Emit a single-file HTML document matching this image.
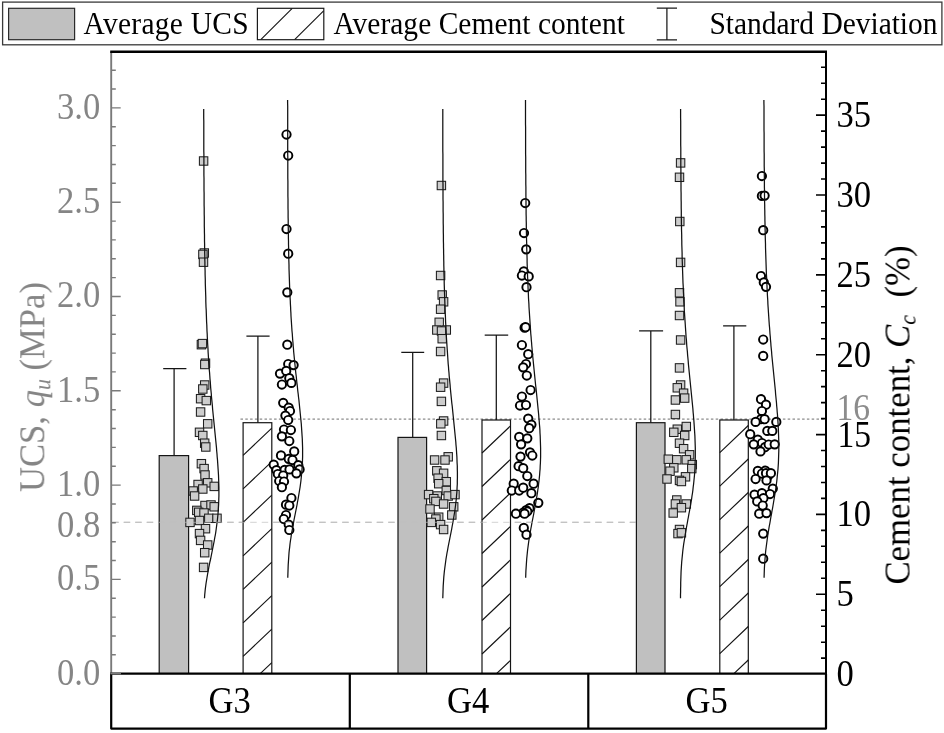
<!DOCTYPE html><html><head><meta charset="utf-8"><title>chart</title><style>
html,body{margin:0;padding:0;background:#fff;}body{width:944px;height:733px;overflow:hidden;}
svg{display:block;}text{font-family:"Liberation Serif",serif;filter:blur(0.3px);}
</style></head><body>
<svg width="944" height="733" viewBox="0 0 944 733">
<rect width="944" height="733" fill="#fff"/>
<rect x="2.6" y="2.1" width="939.3" height="42.7" fill="#fff" stroke="#3a3a3a" stroke-width="1.3"/>
<rect x="8.6" y="8.3" width="66" height="31.4" fill="#c0c0c0" stroke="#2a2a2a" stroke-width="1.2"/>
<text transform="translate(83.6,33.7) scale(1,1.085)" font-size="29.5" text-anchor="start" fill="#000" textLength="165">Average UCS</text>
<rect x="257.4" y="8.3" width="66.4" height="31.4" fill="#fff" stroke="#1a1a1a" stroke-width="1.2"/>
<path d="M260.8,39.7 L292.2,8.3 M294.6,39.7 L323.6,10.8" stroke="#1a1a1a" stroke-width="1.15" fill="none"/>
<text transform="translate(333.4,33.7) scale(1,1.085)" font-size="29.5" text-anchor="start" fill="#000" textLength="291.5">Average Cement content</text>
<path d="M666.9,8.2 V39.8 M656.8,8.2 H677 M656.8,39.8 H677" stroke="#1a1a1a" stroke-width="1.25" fill="none"/>
<text transform="translate(709.5,33.7) scale(1,1.085)" font-size="29.5" text-anchor="start" fill="#000" textLength="228">Standard Deviation</text>
<line x1="112.2" y1="522.3" x2="636" y2="522.3" stroke="#b8b8b8" stroke-width="1.05" stroke-dasharray="6.5,5"/>
<line x1="240.5" y1="419.1" x2="826.0" y2="419.1" stroke="#4a4a4a" stroke-width="0.8" stroke-dasharray="2.5,2.3"/>
<rect x="159.2" y="455.6" width="29.4" height="218.1" fill="#c0c0c0" stroke="#151515" stroke-width="1.2"/>
<path d="M174.1,455.6 V368.7 M163.2,368.7 H186.4" stroke="#151515" stroke-width="1.25" fill="none"/>
<rect x="243.1" y="422.7" width="28.7" height="251.0" fill="#fff" stroke="#151515" stroke-width="1.2"/>
<path d="M243.1,455.4 L271.8,428.1 M243.1,488.9 L271.8,461.6 M243.1,522.4 L271.8,495.1 M243.1,555.9 L271.8,528.6 M243.1,589.4 L271.8,562.1 M243.1,622.9 L271.8,595.6 M243.1,656.4 L271.8,629.1 M260.2,673.7 L271.8,662.6 " stroke="#151515" stroke-width="1.15" fill="none"/>
<path d="M257.9,422.7 V336.0 M246.4,336.0 H269.6" stroke="#151515" stroke-width="1.25" fill="none"/>
<rect x="398.0" y="437.4" width="28.6" height="236.3" fill="#c0c0c0" stroke="#151515" stroke-width="1.2"/>
<path d="M412.7,437.4 V352.3 M401.3,352.3 H424.2" stroke="#151515" stroke-width="1.25" fill="none"/>
<rect x="482.0" y="420.0" width="28.5" height="253.7" fill="#fff" stroke="#151515" stroke-width="1.2"/>
<path d="M482.0,453.0 L510.5,425.9 M482.0,486.5 L510.5,459.4 M482.0,520.0 L510.5,492.9 M482.0,553.5 L510.5,526.4 M482.0,587.0 L510.5,559.9 M482.0,620.5 L510.5,593.4 M482.0,654.0 L510.5,626.9 M496.5,673.7 L510.5,660.4 " stroke="#151515" stroke-width="1.15" fill="none"/>
<path d="M496.3,420.0 V335.1 M484.7,335.1 H508.2" stroke="#151515" stroke-width="1.25" fill="none"/>
<rect x="636.4" y="422.7" width="28.6" height="251.0" fill="#c0c0c0" stroke="#151515" stroke-width="1.2"/>
<path d="M650.8,422.7 V330.8 M639.1,330.8 H663.1" stroke="#151515" stroke-width="1.25" fill="none"/>
<rect x="719.8" y="420.0" width="28.5" height="253.7" fill="#fff" stroke="#151515" stroke-width="1.2"/>
<path d="M719.8,452.6 L748.3,425.5 M719.8,486.1 L748.3,459.0 M719.8,519.6 L748.3,492.5 M719.8,553.1 L748.3,526.0 M719.8,586.6 L748.3,559.5 M719.8,620.1 L748.3,593.0 M719.8,653.6 L748.3,626.5 M733.9,673.7 L748.3,660.0 " stroke="#151515" stroke-width="1.15" fill="none"/>
<path d="M733.9,420.0 V325.8 M723.1,325.8 H746.3" stroke="#151515" stroke-width="1.25" fill="none"/>
<rect x="199.4" y="156.8" width="8.4" height="8.4" fill="#cdcdcd" stroke="#1e1e1e" stroke-width="1.05"/>
<rect x="200.1" y="248.8" width="8.4" height="8.4" fill="#cdcdcd" stroke="#1e1e1e" stroke-width="1.05"/>
<rect x="198.7" y="250.2" width="8.4" height="8.4" fill="#cdcdcd" stroke="#1e1e1e" stroke-width="1.05"/>
<rect x="199.3" y="258.0" width="8.4" height="8.4" fill="#cdcdcd" stroke="#1e1e1e" stroke-width="1.05"/>
<rect x="197.2" y="340.5" width="8.4" height="8.4" fill="#cdcdcd" stroke="#1e1e1e" stroke-width="1.05"/>
<rect x="198.2" y="339.4" width="8.4" height="8.4" fill="#cdcdcd" stroke="#1e1e1e" stroke-width="1.05"/>
<rect x="201.3" y="359.0" width="8.4" height="8.4" fill="#cdcdcd" stroke="#1e1e1e" stroke-width="1.05"/>
<rect x="200.6" y="360.3" width="8.4" height="8.4" fill="#cdcdcd" stroke="#1e1e1e" stroke-width="1.05"/>
<rect x="200.5" y="380.8" width="8.4" height="8.4" fill="#cdcdcd" stroke="#1e1e1e" stroke-width="1.05"/>
<rect x="198.6" y="384.8" width="8.4" height="8.4" fill="#cdcdcd" stroke="#1e1e1e" stroke-width="1.05"/>
<rect x="196.4" y="394.5" width="8.4" height="8.4" fill="#cdcdcd" stroke="#1e1e1e" stroke-width="1.05"/>
<rect x="202.1" y="396.4" width="8.4" height="8.4" fill="#cdcdcd" stroke="#1e1e1e" stroke-width="1.05"/>
<rect x="196.4" y="407.8" width="8.4" height="8.4" fill="#cdcdcd" stroke="#1e1e1e" stroke-width="1.05"/>
<rect x="203.5" y="419.6" width="8.4" height="8.4" fill="#cdcdcd" stroke="#1e1e1e" stroke-width="1.05"/>
<rect x="195.3" y="428.1" width="8.4" height="8.4" fill="#cdcdcd" stroke="#1e1e1e" stroke-width="1.05"/>
<rect x="198.6" y="431.3" width="8.4" height="8.4" fill="#cdcdcd" stroke="#1e1e1e" stroke-width="1.05"/>
<rect x="200.5" y="439.0" width="8.4" height="8.4" fill="#cdcdcd" stroke="#1e1e1e" stroke-width="1.05"/>
<rect x="201.6" y="442.8" width="8.4" height="8.4" fill="#cdcdcd" stroke="#1e1e1e" stroke-width="1.05"/>
<rect x="197.2" y="459.5" width="8.4" height="8.4" fill="#cdcdcd" stroke="#1e1e1e" stroke-width="1.05"/>
<rect x="199.9" y="464.4" width="8.4" height="8.4" fill="#cdcdcd" stroke="#1e1e1e" stroke-width="1.05"/>
<rect x="200.8" y="470.8" width="8.4" height="8.4" fill="#cdcdcd" stroke="#1e1e1e" stroke-width="1.05"/>
<rect x="193.9" y="480.3" width="8.4" height="8.4" fill="#cdcdcd" stroke="#1e1e1e" stroke-width="1.05"/>
<rect x="203.5" y="478.6" width="8.4" height="8.4" fill="#cdcdcd" stroke="#1e1e1e" stroke-width="1.05"/>
<rect x="210.0" y="482.2" width="8.4" height="8.4" fill="#cdcdcd" stroke="#1e1e1e" stroke-width="1.05"/>
<rect x="198.6" y="484.8" width="8.4" height="8.4" fill="#cdcdcd" stroke="#1e1e1e" stroke-width="1.05"/>
<rect x="189.0" y="486.8" width="8.4" height="8.4" fill="#cdcdcd" stroke="#1e1e1e" stroke-width="1.05"/>
<rect x="190.4" y="491.8" width="8.4" height="8.4" fill="#cdcdcd" stroke="#1e1e1e" stroke-width="1.05"/>
<rect x="200.8" y="501.3" width="8.4" height="8.4" fill="#cdcdcd" stroke="#1e1e1e" stroke-width="1.05"/>
<rect x="206.8" y="500.8" width="8.4" height="8.4" fill="#cdcdcd" stroke="#1e1e1e" stroke-width="1.05"/>
<rect x="210.0" y="502.6" width="8.4" height="8.4" fill="#cdcdcd" stroke="#1e1e1e" stroke-width="1.05"/>
<rect x="192.6" y="506.2" width="8.4" height="8.4" fill="#cdcdcd" stroke="#1e1e1e" stroke-width="1.05"/>
<rect x="194.5" y="508.1" width="8.4" height="8.4" fill="#cdcdcd" stroke="#1e1e1e" stroke-width="1.05"/>
<rect x="199.8" y="508.8" width="8.4" height="8.4" fill="#cdcdcd" stroke="#1e1e1e" stroke-width="1.05"/>
<rect x="204.6" y="514.1" width="8.4" height="8.4" fill="#cdcdcd" stroke="#1e1e1e" stroke-width="1.05"/>
<rect x="212.8" y="514.1" width="8.4" height="8.4" fill="#cdcdcd" stroke="#1e1e1e" stroke-width="1.05"/>
<rect x="185.8" y="518.2" width="8.4" height="8.4" fill="#cdcdcd" stroke="#1e1e1e" stroke-width="1.05"/>
<rect x="195.3" y="516.3" width="8.4" height="8.4" fill="#cdcdcd" stroke="#1e1e1e" stroke-width="1.05"/>
<rect x="201.3" y="524.5" width="8.4" height="8.4" fill="#cdcdcd" stroke="#1e1e1e" stroke-width="1.05"/>
<rect x="195.3" y="529.4" width="8.4" height="8.4" fill="#cdcdcd" stroke="#1e1e1e" stroke-width="1.05"/>
<rect x="196.4" y="536.2" width="8.4" height="8.4" fill="#cdcdcd" stroke="#1e1e1e" stroke-width="1.05"/>
<rect x="203.5" y="540.8" width="8.4" height="8.4" fill="#cdcdcd" stroke="#1e1e1e" stroke-width="1.05"/>
<rect x="200.5" y="548.5" width="8.4" height="8.4" fill="#cdcdcd" stroke="#1e1e1e" stroke-width="1.05"/>
<rect x="199.4" y="563.2" width="8.4" height="8.4" fill="#cdcdcd" stroke="#1e1e1e" stroke-width="1.05"/>
<circle cx="286.5" cy="134.5" r="4.15" fill="#fff" stroke="#000" stroke-width="1.95"/>
<circle cx="288.2" cy="155.5" r="4.15" fill="#fff" stroke="#000" stroke-width="1.95"/>
<circle cx="286.5" cy="229.0" r="4.15" fill="#fff" stroke="#000" stroke-width="1.95"/>
<circle cx="288.2" cy="253.7" r="4.15" fill="#fff" stroke="#000" stroke-width="1.95"/>
<circle cx="287.3" cy="292.3" r="4.15" fill="#fff" stroke="#000" stroke-width="1.95"/>
<circle cx="287.3" cy="344.7" r="4.15" fill="#fff" stroke="#000" stroke-width="1.95"/>
<circle cx="288.2" cy="364.0" r="4.15" fill="#fff" stroke="#000" stroke-width="1.95"/>
<circle cx="293.6" cy="365.1" r="4.15" fill="#fff" stroke="#000" stroke-width="1.95"/>
<circle cx="280.0" cy="373.6" r="4.15" fill="#fff" stroke="#000" stroke-width="1.95"/>
<circle cx="286.2" cy="370.9" r="4.15" fill="#fff" stroke="#000" stroke-width="1.95"/>
<circle cx="289.3" cy="378.2" r="4.15" fill="#fff" stroke="#000" stroke-width="1.95"/>
<circle cx="281.9" cy="384.5" r="4.15" fill="#fff" stroke="#000" stroke-width="1.95"/>
<circle cx="291.4" cy="382.9" r="4.15" fill="#fff" stroke="#000" stroke-width="1.95"/>
<circle cx="283.2" cy="402.8" r="4.15" fill="#fff" stroke="#000" stroke-width="1.95"/>
<circle cx="288.7" cy="407.7" r="4.15" fill="#fff" stroke="#000" stroke-width="1.95"/>
<circle cx="290.0" cy="411.0" r="4.15" fill="#fff" stroke="#000" stroke-width="1.95"/>
<circle cx="285.4" cy="415.6" r="4.15" fill="#fff" stroke="#000" stroke-width="1.95"/>
<circle cx="288.2" cy="420.0" r="4.15" fill="#fff" stroke="#000" stroke-width="1.95"/>
<circle cx="284.0" cy="429.5" r="4.15" fill="#fff" stroke="#000" stroke-width="1.95"/>
<circle cx="290.9" cy="430.0" r="4.15" fill="#fff" stroke="#000" stroke-width="1.95"/>
<circle cx="281.9" cy="436.3" r="4.15" fill="#fff" stroke="#000" stroke-width="1.95"/>
<circle cx="289.3" cy="441.0" r="4.15" fill="#fff" stroke="#000" stroke-width="1.95"/>
<circle cx="294.2" cy="451.4" r="4.15" fill="#fff" stroke="#000" stroke-width="1.95"/>
<circle cx="281.0" cy="455.4" r="4.15" fill="#fff" stroke="#000" stroke-width="1.95"/>
<circle cx="288.7" cy="458.8" r="4.15" fill="#fff" stroke="#000" stroke-width="1.95"/>
<circle cx="292.5" cy="460.0" r="4.15" fill="#fff" stroke="#000" stroke-width="1.95"/>
<circle cx="273.7" cy="464.6" r="4.15" fill="#fff" stroke="#000" stroke-width="1.95"/>
<circle cx="298.3" cy="465.2" r="4.15" fill="#fff" stroke="#000" stroke-width="1.95"/>
<circle cx="276.4" cy="470.1" r="4.15" fill="#fff" stroke="#000" stroke-width="1.95"/>
<circle cx="284.6" cy="469.8" r="4.15" fill="#fff" stroke="#000" stroke-width="1.95"/>
<circle cx="289.5" cy="469.4" r="4.15" fill="#fff" stroke="#000" stroke-width="1.95"/>
<circle cx="299.6" cy="469.4" r="4.15" fill="#fff" stroke="#000" stroke-width="1.95"/>
<circle cx="296.4" cy="473.3" r="4.15" fill="#fff" stroke="#000" stroke-width="1.95"/>
<circle cx="277.8" cy="474.0" r="4.15" fill="#fff" stroke="#000" stroke-width="1.95"/>
<circle cx="283.2" cy="475.5" r="4.15" fill="#fff" stroke="#000" stroke-width="1.95"/>
<circle cx="279.2" cy="481.0" r="4.15" fill="#fff" stroke="#000" stroke-width="1.95"/>
<circle cx="284.0" cy="481.5" r="4.15" fill="#fff" stroke="#000" stroke-width="1.95"/>
<circle cx="281.9" cy="487.2" r="4.15" fill="#fff" stroke="#000" stroke-width="1.95"/>
<circle cx="291.4" cy="498.0" r="4.15" fill="#fff" stroke="#000" stroke-width="1.95"/>
<circle cx="286.0" cy="504.7" r="4.15" fill="#fff" stroke="#000" stroke-width="1.95"/>
<circle cx="289.3" cy="505.5" r="4.15" fill="#fff" stroke="#000" stroke-width="1.95"/>
<circle cx="286.0" cy="515.0" r="4.15" fill="#fff" stroke="#000" stroke-width="1.95"/>
<circle cx="283.8" cy="519.0" r="4.15" fill="#fff" stroke="#000" stroke-width="1.95"/>
<circle cx="288.7" cy="524.6" r="4.15" fill="#fff" stroke="#000" stroke-width="1.95"/>
<circle cx="289.3" cy="530.0" r="4.15" fill="#fff" stroke="#000" stroke-width="1.95"/>
<rect x="437.2" y="181.3" width="8.4" height="8.4" fill="#cdcdcd" stroke="#1e1e1e" stroke-width="1.05"/>
<rect x="436.4" y="271.3" width="8.4" height="8.4" fill="#cdcdcd" stroke="#1e1e1e" stroke-width="1.05"/>
<rect x="438.0" y="290.8" width="8.4" height="8.4" fill="#cdcdcd" stroke="#1e1e1e" stroke-width="1.05"/>
<rect x="439.4" y="297.6" width="8.4" height="8.4" fill="#cdcdcd" stroke="#1e1e1e" stroke-width="1.05"/>
<rect x="436.4" y="305.0" width="8.4" height="8.4" fill="#cdcdcd" stroke="#1e1e1e" stroke-width="1.05"/>
<rect x="435.0" y="318.1" width="8.4" height="8.4" fill="#cdcdcd" stroke="#1e1e1e" stroke-width="1.05"/>
<rect x="432.6" y="325.8" width="8.4" height="8.4" fill="#cdcdcd" stroke="#1e1e1e" stroke-width="1.05"/>
<rect x="442.1" y="325.8" width="8.4" height="8.4" fill="#cdcdcd" stroke="#1e1e1e" stroke-width="1.05"/>
<rect x="437.3" y="326.8" width="8.4" height="8.4" fill="#cdcdcd" stroke="#1e1e1e" stroke-width="1.05"/>
<rect x="438.0" y="334.5" width="8.4" height="8.4" fill="#cdcdcd" stroke="#1e1e1e" stroke-width="1.05"/>
<rect x="436.4" y="347.3" width="8.4" height="8.4" fill="#cdcdcd" stroke="#1e1e1e" stroke-width="1.05"/>
<rect x="439.4" y="378.9" width="8.4" height="8.4" fill="#cdcdcd" stroke="#1e1e1e" stroke-width="1.05"/>
<rect x="436.4" y="383.0" width="8.4" height="8.4" fill="#cdcdcd" stroke="#1e1e1e" stroke-width="1.05"/>
<rect x="437.2" y="397.2" width="8.4" height="8.4" fill="#cdcdcd" stroke="#1e1e1e" stroke-width="1.05"/>
<rect x="439.4" y="416.8" width="8.4" height="8.4" fill="#cdcdcd" stroke="#1e1e1e" stroke-width="1.05"/>
<rect x="436.6" y="419.6" width="8.4" height="8.4" fill="#cdcdcd" stroke="#1e1e1e" stroke-width="1.05"/>
<rect x="437.2" y="431.3" width="8.4" height="8.4" fill="#cdcdcd" stroke="#1e1e1e" stroke-width="1.05"/>
<rect x="444.0" y="452.6" width="8.4" height="8.4" fill="#cdcdcd" stroke="#1e1e1e" stroke-width="1.05"/>
<rect x="430.4" y="455.8" width="8.4" height="8.4" fill="#cdcdcd" stroke="#1e1e1e" stroke-width="1.05"/>
<rect x="440.8" y="455.8" width="8.4" height="8.4" fill="#cdcdcd" stroke="#1e1e1e" stroke-width="1.05"/>
<rect x="432.6" y="466.6" width="8.4" height="8.4" fill="#cdcdcd" stroke="#1e1e1e" stroke-width="1.05"/>
<rect x="439.4" y="469.1" width="8.4" height="8.4" fill="#cdcdcd" stroke="#1e1e1e" stroke-width="1.05"/>
<rect x="433.9" y="474.0" width="8.4" height="8.4" fill="#cdcdcd" stroke="#1e1e1e" stroke-width="1.05"/>
<rect x="442.1" y="477.5" width="8.4" height="8.4" fill="#cdcdcd" stroke="#1e1e1e" stroke-width="1.05"/>
<rect x="434.5" y="479.5" width="8.4" height="8.4" fill="#cdcdcd" stroke="#1e1e1e" stroke-width="1.05"/>
<rect x="442.1" y="486.3" width="8.4" height="8.4" fill="#cdcdcd" stroke="#1e1e1e" stroke-width="1.05"/>
<rect x="424.4" y="490.4" width="8.4" height="8.4" fill="#cdcdcd" stroke="#1e1e1e" stroke-width="1.05"/>
<rect x="433.1" y="491.8" width="8.4" height="8.4" fill="#cdcdcd" stroke="#1e1e1e" stroke-width="1.05"/>
<rect x="444.0" y="491.8" width="8.4" height="8.4" fill="#cdcdcd" stroke="#1e1e1e" stroke-width="1.05"/>
<rect x="450.8" y="490.4" width="8.4" height="8.4" fill="#cdcdcd" stroke="#1e1e1e" stroke-width="1.05"/>
<rect x="429.6" y="494.5" width="8.4" height="8.4" fill="#cdcdcd" stroke="#1e1e1e" stroke-width="1.05"/>
<rect x="431.7" y="497.2" width="8.4" height="8.4" fill="#cdcdcd" stroke="#1e1e1e" stroke-width="1.05"/>
<rect x="439.4" y="499.8" width="8.4" height="8.4" fill="#cdcdcd" stroke="#1e1e1e" stroke-width="1.05"/>
<rect x="449.5" y="502.6" width="8.4" height="8.4" fill="#cdcdcd" stroke="#1e1e1e" stroke-width="1.05"/>
<rect x="425.8" y="504.8" width="8.4" height="8.4" fill="#cdcdcd" stroke="#1e1e1e" stroke-width="1.05"/>
<rect x="447.6" y="510.8" width="8.4" height="8.4" fill="#cdcdcd" stroke="#1e1e1e" stroke-width="1.05"/>
<rect x="434.5" y="513.0" width="8.4" height="8.4" fill="#cdcdcd" stroke="#1e1e1e" stroke-width="1.05"/>
<rect x="431.7" y="514.8" width="8.4" height="8.4" fill="#cdcdcd" stroke="#1e1e1e" stroke-width="1.05"/>
<rect x="427.1" y="518.2" width="8.4" height="8.4" fill="#cdcdcd" stroke="#1e1e1e" stroke-width="1.05"/>
<rect x="436.4" y="520.4" width="8.4" height="8.4" fill="#cdcdcd" stroke="#1e1e1e" stroke-width="1.05"/>
<rect x="439.4" y="525.3" width="8.4" height="8.4" fill="#cdcdcd" stroke="#1e1e1e" stroke-width="1.05"/>
<circle cx="525.2" cy="203.0" r="4.15" fill="#fff" stroke="#000" stroke-width="1.95"/>
<circle cx="524.0" cy="233.0" r="4.15" fill="#fff" stroke="#000" stroke-width="1.95"/>
<circle cx="526.2" cy="249.3" r="4.15" fill="#fff" stroke="#000" stroke-width="1.95"/>
<circle cx="523.8" cy="271.4" r="4.15" fill="#fff" stroke="#000" stroke-width="1.95"/>
<circle cx="521.9" cy="275.5" r="4.15" fill="#fff" stroke="#000" stroke-width="1.95"/>
<circle cx="528.7" cy="276.4" r="4.15" fill="#fff" stroke="#000" stroke-width="1.95"/>
<circle cx="526.5" cy="287.2" r="4.15" fill="#fff" stroke="#000" stroke-width="1.95"/>
<circle cx="524.6" cy="327.7" r="4.15" fill="#fff" stroke="#000" stroke-width="1.95"/>
<circle cx="525.6" cy="327.2" r="4.15" fill="#fff" stroke="#000" stroke-width="1.95"/>
<circle cx="521.9" cy="345.0" r="4.15" fill="#fff" stroke="#000" stroke-width="1.95"/>
<circle cx="528.2" cy="354.2" r="4.15" fill="#fff" stroke="#000" stroke-width="1.95"/>
<circle cx="526.0" cy="364.0" r="4.15" fill="#fff" stroke="#000" stroke-width="1.95"/>
<circle cx="523.2" cy="367.3" r="4.15" fill="#fff" stroke="#000" stroke-width="1.95"/>
<circle cx="526.8" cy="375.5" r="4.15" fill="#fff" stroke="#000" stroke-width="1.95"/>
<circle cx="530.6" cy="390.0" r="4.15" fill="#fff" stroke="#000" stroke-width="1.95"/>
<circle cx="521.9" cy="396.5" r="4.15" fill="#fff" stroke="#000" stroke-width="1.95"/>
<circle cx="520.0" cy="405.5" r="4.15" fill="#fff" stroke="#000" stroke-width="1.95"/>
<circle cx="526.0" cy="405.0" r="4.15" fill="#fff" stroke="#000" stroke-width="1.95"/>
<circle cx="528.2" cy="418.6" r="4.15" fill="#fff" stroke="#000" stroke-width="1.95"/>
<circle cx="531.4" cy="424.6" r="4.15" fill="#fff" stroke="#000" stroke-width="1.95"/>
<circle cx="529.2" cy="428.2" r="4.15" fill="#fff" stroke="#000" stroke-width="1.95"/>
<circle cx="519.2" cy="436.9" r="4.15" fill="#fff" stroke="#000" stroke-width="1.95"/>
<circle cx="527.3" cy="438.3" r="4.15" fill="#fff" stroke="#000" stroke-width="1.95"/>
<circle cx="521.1" cy="444.3" r="4.15" fill="#fff" stroke="#000" stroke-width="1.95"/>
<circle cx="530.0" cy="452.3" r="4.15" fill="#fff" stroke="#000" stroke-width="1.95"/>
<circle cx="532.3" cy="455.5" r="4.15" fill="#fff" stroke="#000" stroke-width="1.95"/>
<circle cx="520.5" cy="456.6" r="4.15" fill="#fff" stroke="#000" stroke-width="1.95"/>
<circle cx="518.6" cy="466.2" r="4.15" fill="#fff" stroke="#000" stroke-width="1.95"/>
<circle cx="523.2" cy="468.2" r="4.15" fill="#fff" stroke="#000" stroke-width="1.95"/>
<circle cx="527.3" cy="476.0" r="4.15" fill="#fff" stroke="#000" stroke-width="1.95"/>
<circle cx="513.7" cy="483.7" r="4.15" fill="#fff" stroke="#000" stroke-width="1.95"/>
<circle cx="533.6" cy="483.7" r="4.15" fill="#fff" stroke="#000" stroke-width="1.95"/>
<circle cx="511.8" cy="490.5" r="4.15" fill="#fff" stroke="#000" stroke-width="1.95"/>
<circle cx="519.2" cy="490.5" r="4.15" fill="#fff" stroke="#000" stroke-width="1.95"/>
<circle cx="523.2" cy="487.7" r="4.15" fill="#fff" stroke="#000" stroke-width="1.95"/>
<circle cx="531.4" cy="493.2" r="4.15" fill="#fff" stroke="#000" stroke-width="1.95"/>
<circle cx="538.3" cy="502.8" r="4.15" fill="#fff" stroke="#000" stroke-width="1.95"/>
<circle cx="529.5" cy="508.2" r="4.15" fill="#fff" stroke="#000" stroke-width="1.95"/>
<circle cx="526.2" cy="510.2" r="4.15" fill="#fff" stroke="#000" stroke-width="1.95"/>
<circle cx="527.3" cy="511.5" r="4.15" fill="#fff" stroke="#000" stroke-width="1.95"/>
<circle cx="523.2" cy="512.6" r="4.15" fill="#fff" stroke="#000" stroke-width="1.95"/>
<circle cx="515.9" cy="513.7" r="4.15" fill="#fff" stroke="#000" stroke-width="1.95"/>
<circle cx="524.6" cy="513.7" r="4.15" fill="#fff" stroke="#000" stroke-width="1.95"/>
<circle cx="523.8" cy="527.9" r="4.15" fill="#fff" stroke="#000" stroke-width="1.95"/>
<circle cx="526.5" cy="534.7" r="4.15" fill="#fff" stroke="#000" stroke-width="1.95"/>
<rect x="676.4" y="158.7" width="8.4" height="8.4" fill="#cdcdcd" stroke="#1e1e1e" stroke-width="1.05"/>
<rect x="675.3" y="173.1" width="8.4" height="8.4" fill="#cdcdcd" stroke="#1e1e1e" stroke-width="1.05"/>
<rect x="675.6" y="217.3" width="8.4" height="8.4" fill="#cdcdcd" stroke="#1e1e1e" stroke-width="1.05"/>
<rect x="676.4" y="258.2" width="8.4" height="8.4" fill="#cdcdcd" stroke="#1e1e1e" stroke-width="1.05"/>
<rect x="675.3" y="288.6" width="8.4" height="8.4" fill="#cdcdcd" stroke="#1e1e1e" stroke-width="1.05"/>
<rect x="675.8" y="297.6" width="8.4" height="8.4" fill="#cdcdcd" stroke="#1e1e1e" stroke-width="1.05"/>
<rect x="675.3" y="311.3" width="8.4" height="8.4" fill="#cdcdcd" stroke="#1e1e1e" stroke-width="1.05"/>
<rect x="676.4" y="335.8" width="8.4" height="8.4" fill="#cdcdcd" stroke="#1e1e1e" stroke-width="1.05"/>
<rect x="675.3" y="363.7" width="8.4" height="8.4" fill="#cdcdcd" stroke="#1e1e1e" stroke-width="1.05"/>
<rect x="676.4" y="380.8" width="8.4" height="8.4" fill="#cdcdcd" stroke="#1e1e1e" stroke-width="1.05"/>
<rect x="673.1" y="383.6" width="8.4" height="8.4" fill="#cdcdcd" stroke="#1e1e1e" stroke-width="1.05"/>
<rect x="679.4" y="389.0" width="8.4" height="8.4" fill="#cdcdcd" stroke="#1e1e1e" stroke-width="1.05"/>
<rect x="671.2" y="395.8" width="8.4" height="8.4" fill="#cdcdcd" stroke="#1e1e1e" stroke-width="1.05"/>
<rect x="680.5" y="393.9" width="8.4" height="8.4" fill="#cdcdcd" stroke="#1e1e1e" stroke-width="1.05"/>
<rect x="671.2" y="410.3" width="8.4" height="8.4" fill="#cdcdcd" stroke="#1e1e1e" stroke-width="1.05"/>
<rect x="682.1" y="422.3" width="8.4" height="8.4" fill="#cdcdcd" stroke="#1e1e1e" stroke-width="1.05"/>
<rect x="673.1" y="425.0" width="8.4" height="8.4" fill="#cdcdcd" stroke="#1e1e1e" stroke-width="1.05"/>
<rect x="669.6" y="428.1" width="8.4" height="8.4" fill="#cdcdcd" stroke="#1e1e1e" stroke-width="1.05"/>
<rect x="680.5" y="431.3" width="8.4" height="8.4" fill="#cdcdcd" stroke="#1e1e1e" stroke-width="1.05"/>
<rect x="675.3" y="439.0" width="8.4" height="8.4" fill="#cdcdcd" stroke="#1e1e1e" stroke-width="1.05"/>
<rect x="679.4" y="444.5" width="8.4" height="8.4" fill="#cdcdcd" stroke="#1e1e1e" stroke-width="1.05"/>
<rect x="685.4" y="450.6" width="8.4" height="8.4" fill="#cdcdcd" stroke="#1e1e1e" stroke-width="1.05"/>
<rect x="664.1" y="455.0" width="8.4" height="8.4" fill="#cdcdcd" stroke="#1e1e1e" stroke-width="1.05"/>
<rect x="672.6" y="455.6" width="8.4" height="8.4" fill="#cdcdcd" stroke="#1e1e1e" stroke-width="1.05"/>
<rect x="682.1" y="455.6" width="8.4" height="8.4" fill="#cdcdcd" stroke="#1e1e1e" stroke-width="1.05"/>
<rect x="688.1" y="460.4" width="8.4" height="8.4" fill="#cdcdcd" stroke="#1e1e1e" stroke-width="1.05"/>
<rect x="669.6" y="463.6" width="8.4" height="8.4" fill="#cdcdcd" stroke="#1e1e1e" stroke-width="1.05"/>
<rect x="665.8" y="467.0" width="8.4" height="8.4" fill="#cdcdcd" stroke="#1e1e1e" stroke-width="1.05"/>
<rect x="687.6" y="464.4" width="8.4" height="8.4" fill="#cdcdcd" stroke="#1e1e1e" stroke-width="1.05"/>
<rect x="681.3" y="472.6" width="8.4" height="8.4" fill="#cdcdcd" stroke="#1e1e1e" stroke-width="1.05"/>
<rect x="662.8" y="474.8" width="8.4" height="8.4" fill="#cdcdcd" stroke="#1e1e1e" stroke-width="1.05"/>
<rect x="675.3" y="476.2" width="8.4" height="8.4" fill="#cdcdcd" stroke="#1e1e1e" stroke-width="1.05"/>
<rect x="677.2" y="477.3" width="8.4" height="8.4" fill="#cdcdcd" stroke="#1e1e1e" stroke-width="1.05"/>
<rect x="672.6" y="495.8" width="8.4" height="8.4" fill="#cdcdcd" stroke="#1e1e1e" stroke-width="1.05"/>
<rect x="671.2" y="499.8" width="8.4" height="8.4" fill="#cdcdcd" stroke="#1e1e1e" stroke-width="1.05"/>
<rect x="682.1" y="499.8" width="8.4" height="8.4" fill="#cdcdcd" stroke="#1e1e1e" stroke-width="1.05"/>
<rect x="677.2" y="503.5" width="8.4" height="8.4" fill="#cdcdcd" stroke="#1e1e1e" stroke-width="1.05"/>
<rect x="669.0" y="508.8" width="8.4" height="8.4" fill="#cdcdcd" stroke="#1e1e1e" stroke-width="1.05"/>
<rect x="675.3" y="525.3" width="8.4" height="8.4" fill="#cdcdcd" stroke="#1e1e1e" stroke-width="1.05"/>
<rect x="673.8" y="529.4" width="8.4" height="8.4" fill="#cdcdcd" stroke="#1e1e1e" stroke-width="1.05"/>
<rect x="677.2" y="528.6" width="8.4" height="8.4" fill="#cdcdcd" stroke="#1e1e1e" stroke-width="1.05"/>
<circle cx="761.9" cy="176.0" r="4.15" fill="#fff" stroke="#000" stroke-width="1.95"/>
<circle cx="761.9" cy="195.9" r="4.15" fill="#fff" stroke="#000" stroke-width="1.95"/>
<circle cx="764.6" cy="195.6" r="4.15" fill="#fff" stroke="#000" stroke-width="1.95"/>
<circle cx="763.2" cy="230.2" r="4.15" fill="#fff" stroke="#000" stroke-width="1.95"/>
<circle cx="761.0" cy="276.0" r="4.15" fill="#fff" stroke="#000" stroke-width="1.95"/>
<circle cx="763.8" cy="282.4" r="4.15" fill="#fff" stroke="#000" stroke-width="1.95"/>
<circle cx="766.0" cy="286.8" r="4.15" fill="#fff" stroke="#000" stroke-width="1.95"/>
<circle cx="763.2" cy="339.5" r="4.15" fill="#fff" stroke="#000" stroke-width="1.95"/>
<circle cx="763.2" cy="355.9" r="4.15" fill="#fff" stroke="#000" stroke-width="1.95"/>
<circle cx="761.0" cy="399.2" r="4.15" fill="#fff" stroke="#000" stroke-width="1.95"/>
<circle cx="766.0" cy="404.7" r="4.15" fill="#fff" stroke="#000" stroke-width="1.95"/>
<circle cx="761.9" cy="411.0" r="4.15" fill="#fff" stroke="#000" stroke-width="1.95"/>
<circle cx="761.0" cy="419.2" r="4.15" fill="#fff" stroke="#000" stroke-width="1.95"/>
<circle cx="764.6" cy="419.2" r="4.15" fill="#fff" stroke="#000" stroke-width="1.95"/>
<circle cx="755.6" cy="421.9" r="4.15" fill="#fff" stroke="#000" stroke-width="1.95"/>
<circle cx="776.3" cy="421.9" r="4.15" fill="#fff" stroke="#000" stroke-width="1.95"/>
<circle cx="750.2" cy="434.2" r="4.15" fill="#fff" stroke="#000" stroke-width="1.95"/>
<circle cx="767.3" cy="430.9" r="4.15" fill="#fff" stroke="#000" stroke-width="1.95"/>
<circle cx="772.3" cy="430.9" r="4.15" fill="#fff" stroke="#000" stroke-width="1.95"/>
<circle cx="757.8" cy="439.6" r="4.15" fill="#fff" stroke="#000" stroke-width="1.95"/>
<circle cx="762.0" cy="443.0" r="4.15" fill="#fff" stroke="#000" stroke-width="1.95"/>
<circle cx="765.0" cy="447.2" r="4.15" fill="#fff" stroke="#000" stroke-width="1.95"/>
<circle cx="753.7" cy="444.3" r="4.15" fill="#fff" stroke="#000" stroke-width="1.95"/>
<circle cx="768.7" cy="444.5" r="4.15" fill="#fff" stroke="#000" stroke-width="1.95"/>
<circle cx="774.7" cy="444.3" r="4.15" fill="#fff" stroke="#000" stroke-width="1.95"/>
<circle cx="760.5" cy="451.4" r="4.15" fill="#fff" stroke="#000" stroke-width="1.95"/>
<circle cx="765.3" cy="470.6" r="4.15" fill="#fff" stroke="#000" stroke-width="1.95"/>
<circle cx="757.8" cy="470.9" r="4.15" fill="#fff" stroke="#000" stroke-width="1.95"/>
<circle cx="768.3" cy="475.6" r="4.15" fill="#fff" stroke="#000" stroke-width="1.95"/>
<circle cx="761.9" cy="473.5" r="4.15" fill="#fff" stroke="#000" stroke-width="1.95"/>
<circle cx="766.0" cy="473.2" r="4.15" fill="#fff" stroke="#000" stroke-width="1.95"/>
<circle cx="770.9" cy="473.2" r="4.15" fill="#fff" stroke="#000" stroke-width="1.95"/>
<circle cx="755.6" cy="479.0" r="4.15" fill="#fff" stroke="#000" stroke-width="1.95"/>
<circle cx="766.5" cy="480.4" r="4.15" fill="#fff" stroke="#000" stroke-width="1.95"/>
<circle cx="772.8" cy="488.6" r="4.15" fill="#fff" stroke="#000" stroke-width="1.95"/>
<circle cx="754.5" cy="494.6" r="4.15" fill="#fff" stroke="#000" stroke-width="1.95"/>
<circle cx="761.9" cy="493.2" r="4.15" fill="#fff" stroke="#000" stroke-width="1.95"/>
<circle cx="770.0" cy="494.0" r="4.15" fill="#fff" stroke="#000" stroke-width="1.95"/>
<circle cx="763.4" cy="498.2" r="4.15" fill="#fff" stroke="#000" stroke-width="1.95"/>
<circle cx="757.2" cy="501.4" r="4.15" fill="#fff" stroke="#000" stroke-width="1.95"/>
<circle cx="762.7" cy="505.5" r="4.15" fill="#fff" stroke="#000" stroke-width="1.95"/>
<circle cx="759.2" cy="513.7" r="4.15" fill="#fff" stroke="#000" stroke-width="1.95"/>
<circle cx="766.5" cy="513.1" r="4.15" fill="#fff" stroke="#000" stroke-width="1.95"/>
<circle cx="763.2" cy="533.6" r="4.15" fill="#fff" stroke="#000" stroke-width="1.95"/>
<circle cx="763.2" cy="558.7" r="4.15" fill="#fff" stroke="#000" stroke-width="1.95"/>
<path d="M203.7,109.0 L203.7,112.0 L203.7,115.0 L203.7,118.0 L203.8,121.0 L203.8,124.0 L203.8,127.0 L203.8,130.0 L203.8,133.0 L203.8,136.0 L203.8,139.0 L203.8,142.0 L203.8,145.0 L203.8,148.0 L203.8,151.0 L203.9,154.0 L203.9,157.0 L203.9,160.0 L203.9,163.0 L203.9,166.0 L203.9,169.0 L203.9,172.0 L203.9,175.0 L204.0,178.0 L204.0,181.0 L204.0,184.0 L204.0,187.0 L204.0,190.0 L204.1,193.0 L204.1,196.0 L204.1,199.0 L204.1,202.0 L204.1,205.0 L204.2,208.0 L204.2,211.0 L204.2,214.0 L204.3,217.0 L204.3,220.0 L204.3,223.0 L204.3,226.0 L204.4,229.0 L204.4,232.0 L204.5,235.0 L204.5,238.0 L204.5,241.0 L204.6,244.0 L204.6,247.0 L204.7,250.0 L204.7,253.0 L204.8,256.0 L204.8,259.0 L204.9,262.0 L204.9,265.0 L205.0,268.0 L205.1,271.0 L205.1,274.0 L205.2,277.0 L205.3,280.0 L205.3,283.0 L205.4,286.0 L205.5,289.0 L205.6,292.0 L205.7,295.0 L205.8,298.0 L205.8,301.0 L205.9,304.0 L206.0,307.0 L206.2,310.0 L206.3,313.0 L206.4,316.0 L206.5,319.0 L206.6,322.0 L206.8,325.0 L206.9,328.0 L207.0,331.0 L207.2,334.0 L207.3,337.0 L207.5,340.0 L207.6,343.0 L207.8,346.0 L208.0,349.0 L208.1,352.0 L208.3,355.0 L208.5,358.0 L208.7,361.0 L208.9,364.0 L209.1,367.0 L209.3,370.0 L209.6,373.0 L209.8,376.0 L210.0,379.0 L210.3,382.0 L210.5,385.0 L210.7,388.0 L211.0,391.0 L211.3,394.0 L211.5,397.0 L211.8,400.0 L212.1,403.0 L212.4,406.0 L212.6,409.0 L212.9,412.0 L213.2,415.0 L213.5,418.0 L213.8,421.0 L214.1,424.0 L214.4,427.0 L214.7,430.0 L215.0,433.0 L215.3,436.0 L215.6,439.0 L215.9,442.0 L216.2,445.0 L216.5,448.0 L216.7,451.0 L217.0,454.0 L217.2,457.0 L217.5,460.0 L217.7,463.0 L217.9,466.0 L218.1,469.0 L218.3,472.0 L218.5,475.0 L218.6,478.0 L218.7,481.0 L218.8,484.0 L218.9,487.0 L218.9,490.0 L218.9,493.0 L218.9,496.0 L218.8,499.0 L218.7,502.0 L218.6,505.0 L218.4,508.0 L218.2,511.0 L218.0,514.0 L217.7,517.0 L217.4,520.0 L217.0,523.0 L216.6,526.0 L216.2,529.0 L215.8,532.0 L215.3,535.0 L214.7,538.0 L214.2,541.0 L213.6,544.0 L213.0,547.0 L212.4,550.0 L211.8,553.0 L211.2,556.0 L210.6,559.0 L209.9,562.0 L209.3,565.0 L208.7,568.0 L208.2,571.0 L207.6,574.0 L207.1,577.0 L206.6,580.0 L206.1,583.0 L205.7,586.0 L205.3,589.0 L205.0,592.0 L204.7,595.0 L204.5,598.0 L204.5,598.3" stroke="#111" stroke-width="1.25" fill="none"/>
<path d="M287.6,100.0 L287.6,103.0 L287.7,106.0 L287.7,109.0 L287.7,112.0 L287.7,115.0 L287.7,118.0 L287.7,121.0 L287.7,124.0 L287.7,127.0 L287.7,130.0 L287.7,133.0 L287.7,136.0 L287.7,139.0 L287.7,142.0 L287.7,145.0 L287.7,148.0 L287.7,151.0 L287.7,154.0 L287.8,157.0 L287.8,160.0 L287.8,163.0 L287.8,166.0 L287.8,169.0 L287.8,172.0 L287.8,175.0 L287.8,178.0 L287.9,181.0 L287.9,184.0 L287.9,187.0 L287.9,190.0 L287.9,193.0 L287.9,196.0 L288.0,199.0 L288.0,202.0 L288.0,205.0 L288.0,208.0 L288.1,211.0 L288.1,214.0 L288.1,217.0 L288.2,220.0 L288.2,223.0 L288.2,226.0 L288.3,229.0 L288.3,232.0 L288.4,235.0 L288.4,238.0 L288.5,241.0 L288.5,244.0 L288.6,247.0 L288.6,250.0 L288.7,253.0 L288.7,256.0 L288.8,259.0 L288.9,262.0 L289.0,265.0 L289.0,268.0 L289.1,271.0 L289.2,274.0 L289.3,277.0 L289.4,280.0 L289.5,283.0 L289.6,286.0 L289.7,289.0 L289.9,292.0 L290.0,295.0 L290.1,298.0 L290.3,301.0 L290.4,304.0 L290.6,307.0 L290.7,310.0 L290.9,313.0 L291.0,316.0 L291.2,319.0 L291.4,322.0 L291.6,325.0 L291.8,328.0 L292.0,331.0 L292.3,334.0 L292.5,337.0 L292.7,340.0 L293.0,343.0 L293.2,346.0 L293.5,349.0 L293.7,352.0 L294.0,355.0 L294.3,358.0 L294.6,361.0 L294.9,364.0 L295.2,367.0 L295.5,370.0 L295.8,373.0 L296.2,376.0 L296.5,379.0 L296.8,382.0 L297.2,385.0 L297.5,388.0 L297.8,391.0 L298.2,394.0 L298.5,397.0 L298.9,400.0 L299.2,403.0 L299.5,406.0 L299.8,409.0 L300.1,412.0 L300.4,415.0 L300.7,418.0 L301.0,421.0 L301.3,424.0 L301.5,427.0 L301.7,430.0 L301.9,433.0 L302.1,436.0 L302.3,439.0 L302.4,442.0 L302.5,445.0 L302.6,448.0 L302.6,451.0 L302.6,454.0 L302.6,457.0 L302.5,460.0 L302.4,463.0 L302.2,466.0 L302.0,469.0 L301.8,472.0 L301.5,475.0 L301.2,478.0 L300.9,481.0 L300.5,484.0 L300.1,487.0 L299.6,490.0 L299.1,493.0 L298.6,496.0 L298.1,499.0 L297.5,502.0 L297.0,505.0 L296.4,508.0 L295.8,511.0 L295.2,514.0 L294.6,517.0 L294.0,520.0 L293.5,523.0 L292.9,526.0 L292.4,529.0 L291.8,532.0 L291.3,535.0 L290.9,538.0 L290.4,541.0 L290.0,544.0 L289.7,547.0 L289.3,550.0 L289.0,553.0 L288.8,556.0 L288.6,559.0 L288.4,562.0 L288.2,565.0 L288.1,568.0 L288.0,571.0 L287.9,574.0 L287.8,577.0 L287.8,577.8" stroke="#111" stroke-width="1.25" fill="none"/>
<path d="M442.8,109.0 L442.8,112.0 L442.8,115.0 L442.8,118.0 L442.8,121.0 L442.8,124.0 L442.8,127.0 L442.8,130.0 L442.8,133.0 L442.8,136.0 L442.8,139.0 L442.8,142.0 L442.8,145.0 L442.8,148.0 L442.8,151.0 L442.9,154.0 L442.9,157.0 L442.9,160.0 L442.9,163.0 L442.9,166.0 L442.9,169.0 L442.9,172.0 L442.9,175.0 L442.9,178.0 L442.9,181.0 L443.0,184.0 L443.0,187.0 L443.0,190.0 L443.0,193.0 L443.0,196.0 L443.0,199.0 L443.1,202.0 L443.1,205.0 L443.1,208.0 L443.1,211.0 L443.2,214.0 L443.2,217.0 L443.2,220.0 L443.2,223.0 L443.3,226.0 L443.3,229.0 L443.3,232.0 L443.4,235.0 L443.4,238.0 L443.4,241.0 L443.5,244.0 L443.5,247.0 L443.6,250.0 L443.6,253.0 L443.7,256.0 L443.7,259.0 L443.8,262.0 L443.8,265.0 L443.9,268.0 L443.9,271.0 L444.0,274.0 L444.1,277.0 L444.2,280.0 L444.2,283.0 L444.3,286.0 L444.4,289.0 L444.5,292.0 L444.6,295.0 L444.7,298.0 L444.8,301.0 L444.9,304.0 L445.0,307.0 L445.1,310.0 L445.2,313.0 L445.4,316.0 L445.5,319.0 L445.6,322.0 L445.8,325.0 L445.9,328.0 L446.1,331.0 L446.2,334.0 L446.4,337.0 L446.6,340.0 L446.8,343.0 L447.0,346.0 L447.2,349.0 L447.4,352.0 L447.6,355.0 L447.8,358.0 L448.0,361.0 L448.2,364.0 L448.5,367.0 L448.7,370.0 L449.0,373.0 L449.2,376.0 L449.5,379.0 L449.8,382.0 L450.1,385.0 L450.3,388.0 L450.6,391.0 L450.9,394.0 L451.2,397.0 L451.5,400.0 L451.8,403.0 L452.2,406.0 L452.5,409.0 L452.8,412.0 L453.1,415.0 L453.4,418.0 L453.7,421.0 L454.0,424.0 L454.3,427.0 L454.6,430.0 L454.9,433.0 L455.2,436.0 L455.5,439.0 L455.8,442.0 L456.0,445.0 L456.3,448.0 L456.5,451.0 L456.7,454.0 L456.9,457.0 L457.0,460.0 L457.1,463.0 L457.3,466.0 L457.3,469.0 L457.4,472.0 L457.4,475.0 L457.4,478.0 L457.3,481.0 L457.3,484.0 L457.1,487.0 L457.0,490.0 L456.8,493.0 L456.5,496.0 L456.3,499.0 L455.9,502.0 L455.6,505.0 L455.2,508.0 L454.8,511.0 L454.3,514.0 L453.8,517.0 L453.3,520.0 L452.8,523.0 L452.2,526.0 L451.7,529.0 L451.1,532.0 L450.5,535.0 L449.9,538.0 L449.3,541.0 L448.7,544.0 L448.1,547.0 L447.6,550.0 L447.0,553.0 L446.5,556.0 L446.0,559.0 L445.6,562.0 L445.2,565.0 L444.8,568.0 L444.4,571.0 L444.1,574.0 L443.8,577.0 L443.6,580.0 L443.4,583.0 L443.2,586.0 L443.1,589.0 L443.0,592.0 L442.9,595.0 L442.8,598.0 L442.8,598.3" stroke="#111" stroke-width="1.25" fill="none"/>
<path d="M525.5,100.0 L525.5,103.0 L525.5,106.0 L525.5,109.0 L525.5,112.0 L525.5,115.0 L525.5,118.0 L525.5,121.0 L525.5,124.0 L525.6,127.0 L525.6,130.0 L525.6,133.0 L525.6,136.0 L525.6,139.0 L525.6,142.0 L525.6,145.0 L525.6,148.0 L525.6,151.0 L525.6,154.0 L525.7,157.0 L525.7,160.0 L525.7,163.0 L525.7,166.0 L525.7,169.0 L525.7,172.0 L525.8,175.0 L525.8,178.0 L525.8,181.0 L525.8,184.0 L525.9,187.0 L525.9,190.0 L525.9,193.0 L525.9,196.0 L526.0,199.0 L526.0,202.0 L526.0,205.0 L526.1,208.0 L526.1,211.0 L526.1,214.0 L526.2,217.0 L526.2,220.0 L526.3,223.0 L526.3,226.0 L526.4,229.0 L526.4,232.0 L526.5,235.0 L526.5,238.0 L526.6,241.0 L526.7,244.0 L526.7,247.0 L526.8,250.0 L526.9,253.0 L527.0,256.0 L527.1,259.0 L527.1,262.0 L527.2,265.0 L527.3,268.0 L527.4,271.0 L527.5,274.0 L527.6,277.0 L527.8,280.0 L527.9,283.0 L528.0,286.0 L528.1,289.0 L528.3,292.0 L528.4,295.0 L528.5,298.0 L528.7,301.0 L528.9,304.0 L529.0,307.0 L529.2,310.0 L529.4,313.0 L529.6,316.0 L529.8,319.0 L530.0,322.0 L530.2,325.0 L530.4,328.0 L530.6,331.0 L530.8,334.0 L531.1,337.0 L531.3,340.0 L531.6,343.0 L531.8,346.0 L532.1,349.0 L532.3,352.0 L532.6,355.0 L532.9,358.0 L533.2,361.0 L533.5,364.0 L533.8,367.0 L534.1,370.0 L534.4,373.0 L534.7,376.0 L535.0,379.0 L535.3,382.0 L535.6,385.0 L536.0,388.0 L536.3,391.0 L536.6,394.0 L536.9,397.0 L537.2,400.0 L537.5,403.0 L537.8,406.0 L538.1,409.0 L538.4,412.0 L538.7,415.0 L538.9,418.0 L539.2,421.0 L539.4,424.0 L539.7,427.0 L539.9,430.0 L540.0,433.0 L540.2,436.0 L540.3,439.0 L540.4,442.0 L540.5,445.0 L540.6,448.0 L540.6,451.0 L540.6,454.0 L540.6,457.0 L540.5,460.0 L540.4,463.0 L540.2,466.0 L540.1,469.0 L539.8,472.0 L539.6,475.0 L539.3,478.0 L539.0,481.0 L538.6,484.0 L538.3,487.0 L537.8,490.0 L537.4,493.0 L536.9,496.0 L536.4,499.0 L535.9,502.0 L535.4,505.0 L534.8,508.0 L534.2,511.0 L533.7,514.0 L533.1,517.0 L532.5,520.0 L531.9,523.0 L531.4,526.0 L530.8,529.0 L530.3,532.0 L529.8,535.0 L529.3,538.0 L528.8,541.0 L528.4,544.0 L528.0,547.0 L527.6,550.0 L527.3,553.0 L527.0,556.0 L526.7,559.0 L526.5,562.0 L526.3,565.0 L526.1,568.0 L525.9,571.0 L525.8,574.0 L525.7,577.0 L525.7,577.8" stroke="#111" stroke-width="1.25" fill="none"/>
<path d="M680.6,109.0 L680.6,112.0 L680.6,115.0 L680.6,118.0 L680.7,121.0 L680.7,124.0 L680.7,127.0 L680.7,130.0 L680.7,133.0 L680.7,136.0 L680.7,139.0 L680.7,142.0 L680.7,145.0 L680.8,148.0 L680.8,151.0 L680.8,154.0 L680.8,157.0 L680.8,160.0 L680.8,163.0 L680.8,166.0 L680.9,169.0 L680.9,172.0 L680.9,175.0 L680.9,178.0 L681.0,181.0 L681.0,184.0 L681.0,187.0 L681.0,190.0 L681.1,193.0 L681.1,196.0 L681.1,199.0 L681.2,202.0 L681.2,205.0 L681.2,208.0 L681.3,211.0 L681.3,214.0 L681.3,217.0 L681.4,220.0 L681.4,223.0 L681.5,226.0 L681.5,229.0 L681.6,232.0 L681.7,235.0 L681.7,238.0 L681.8,241.0 L681.8,244.0 L681.9,247.0 L682.0,250.0 L682.1,253.0 L682.1,256.0 L682.2,259.0 L682.3,262.0 L682.4,265.0 L682.5,268.0 L682.6,271.0 L682.7,274.0 L682.8,277.0 L682.9,280.0 L683.0,283.0 L683.2,286.0 L683.3,289.0 L683.4,292.0 L683.6,295.0 L683.7,298.0 L683.8,301.0 L684.0,304.0 L684.2,307.0 L684.3,310.0 L684.5,313.0 L684.7,316.0 L684.9,319.0 L685.1,322.0 L685.3,325.0 L685.5,328.0 L685.7,331.0 L685.9,334.0 L686.1,337.0 L686.4,340.0 L686.6,343.0 L686.8,346.0 L687.1,349.0 L687.4,352.0 L687.6,355.0 L687.9,358.0 L688.2,361.0 L688.4,364.0 L688.7,367.0 L689.0,370.0 L689.3,373.0 L689.6,376.0 L689.9,379.0 L690.2,382.0 L690.5,385.0 L690.8,388.0 L691.1,391.0 L691.4,394.0 L691.7,397.0 L692.0,400.0 L692.3,403.0 L692.6,406.0 L692.9,409.0 L693.1,412.0 L693.4,415.0 L693.6,418.0 L693.9,421.0 L694.1,424.0 L694.3,427.0 L694.5,430.0 L694.7,433.0 L694.9,436.0 L695.0,439.0 L695.1,442.0 L695.2,445.0 L695.3,448.0 L695.3,451.0 L695.3,454.0 L695.3,457.0 L695.2,460.0 L695.1,463.0 L695.0,466.0 L694.9,469.0 L694.7,472.0 L694.5,475.0 L694.2,478.0 L693.9,481.0 L693.6,484.0 L693.2,487.0 L692.9,490.0 L692.5,493.0 L692.0,496.0 L691.6,499.0 L691.1,502.0 L690.6,505.0 L690.0,508.0 L689.5,511.0 L688.9,514.0 L688.4,517.0 L687.8,520.0 L687.3,523.0 L686.7,526.0 L686.2,529.0 L685.7,532.0 L685.1,535.0 L684.7,538.0 L684.2,541.0 L683.7,544.0 L683.3,547.0 L682.9,550.0 L682.6,553.0 L682.3,556.0 L682.0,559.0 L681.7,562.0 L681.5,565.0 L681.3,568.0 L681.1,571.0 L681.0,574.0 L680.9,577.0 L680.8,580.0 L680.7,583.0 L680.7,586.0 L680.6,589.0 L680.6,592.0 L680.5,595.0 L680.5,598.0 L680.5,598.3" stroke="#111" stroke-width="1.25" fill="none"/>
<path d="M763.9,100.0 L763.9,103.0 L764.0,106.0 L764.0,109.0 L764.0,112.0 L764.0,115.0 L764.0,118.0 L764.0,121.0 L764.0,124.0 L764.0,127.0 L764.0,130.0 L764.1,133.0 L764.1,136.0 L764.1,139.0 L764.1,142.0 L764.1,145.0 L764.1,148.0 L764.1,151.0 L764.2,154.0 L764.2,157.0 L764.2,160.0 L764.2,163.0 L764.2,166.0 L764.3,169.0 L764.3,172.0 L764.3,175.0 L764.4,178.0 L764.4,181.0 L764.4,184.0 L764.4,187.0 L764.5,190.0 L764.5,193.0 L764.5,196.0 L764.6,199.0 L764.6,202.0 L764.7,205.0 L764.7,208.0 L764.8,211.0 L764.8,214.0 L764.9,217.0 L764.9,220.0 L765.0,223.0 L765.0,226.0 L765.1,229.0 L765.2,232.0 L765.2,235.0 L765.3,238.0 L765.4,241.0 L765.5,244.0 L765.5,247.0 L765.6,250.0 L765.7,253.0 L765.8,256.0 L765.9,259.0 L766.0,262.0 L766.1,265.0 L766.2,268.0 L766.3,271.0 L766.4,274.0 L766.6,277.0 L766.7,280.0 L766.8,283.0 L767.0,286.0 L767.1,289.0 L767.3,292.0 L767.4,295.0 L767.6,298.0 L767.8,301.0 L767.9,304.0 L768.1,307.0 L768.3,310.0 L768.5,313.0 L768.7,316.0 L768.9,319.0 L769.1,322.0 L769.3,325.0 L769.6,328.0 L769.8,331.0 L770.0,334.0 L770.3,337.0 L770.5,340.0 L770.8,343.0 L771.0,346.0 L771.3,349.0 L771.6,352.0 L771.8,355.0 L772.1,358.0 L772.4,361.0 L772.7,364.0 L773.0,367.0 L773.3,370.0 L773.6,373.0 L773.9,376.0 L774.2,379.0 L774.5,382.0 L774.8,385.0 L775.1,388.0 L775.4,391.0 L775.6,394.0 L775.9,397.0 L776.2,400.0 L776.5,403.0 L776.7,406.0 L777.0,409.0 L777.2,412.0 L777.5,415.0 L777.7,418.0 L777.9,421.0 L778.1,424.0 L778.2,427.0 L778.4,430.0 L778.5,433.0 L778.6,436.0 L778.7,439.0 L778.8,442.0 L778.8,445.0 L778.8,448.0 L778.8,451.0 L778.7,454.0 L778.6,457.0 L778.5,460.0 L778.4,463.0 L778.2,466.0 L778.0,469.0 L777.7,472.0 L777.4,475.0 L777.1,478.0 L776.8,481.0 L776.4,484.0 L776.0,487.0 L775.6,490.0 L775.1,493.0 L774.6,496.0 L774.1,499.0 L773.6,502.0 L773.1,505.0 L772.6,508.0 L772.0,511.0 L771.5,514.0 L770.9,517.0 L770.4,520.0 L769.9,523.0 L769.3,526.0 L768.8,529.0 L768.3,532.0 L767.8,535.0 L767.4,538.0 L767.0,541.0 L766.6,544.0 L766.2,547.0 L765.8,550.0 L765.5,553.0 L765.3,556.0 L765.0,559.0 L764.8,562.0 L764.6,565.0 L764.4,568.0 L764.3,571.0 L764.2,574.0 L764.1,577.0 L764.1,577.8" stroke="#111" stroke-width="1.25" fill="none"/>
<line x1="112.2" y1="522.3" x2="636" y2="522.3" stroke="#bdbdbd" stroke-opacity="0.55" stroke-width="1.2" stroke-dasharray="6.5,5"/>
<line x1="111.2" y1="51.8" x2="111.2" y2="674.7" stroke="#7a7a7a" stroke-width="1.9"/>
<path d="M111.2,673.7 h9.5 M111.2,654.8 h4.6 M111.2,636.0 h4.6 M111.2,617.1 h4.6 M111.2,598.3 h4.6 M111.2,579.4 h9.5 M111.2,560.5 h4.6 M111.2,541.7 h4.6 M111.2,522.8 h4.6 M111.2,504.0 h4.6 M111.2,485.1 h9.5 M111.2,466.2 h4.6 M111.2,447.4 h4.6 M111.2,428.5 h4.6 M111.2,409.7 h4.6 M111.2,390.8 h9.5 M111.2,371.9 h4.6 M111.2,353.1 h4.6 M111.2,334.2 h4.6 M111.2,315.4 h4.6 M111.2,296.5 h9.5 M111.2,277.6 h4.6 M111.2,258.8 h4.6 M111.2,239.9 h4.6 M111.2,221.1 h4.6 M111.2,202.2 h9.5 M111.2,183.3 h4.6 M111.2,164.5 h4.6 M111.2,145.6 h4.6 M111.2,126.8 h4.6 M111.2,107.9 h9.5 M111.2,89.0 h4.6 M111.2,70.2 h4.6 " stroke="#7a7a7a" stroke-width="1.4" fill="none"/>
<line x1="826.0" y1="51.8" x2="826.0" y2="674.7" stroke="#000" stroke-width="2"/>
<path d="M826.0,674.1 h-10.0 M826.0,658.1 h-5.0 M826.0,642.2 h-5.0 M826.0,626.2 h-5.0 M826.0,610.2 h-5.0 M826.0,594.2 h-10.0 M826.0,578.3 h-5.0 M826.0,562.3 h-5.0 M826.0,546.3 h-5.0 M826.0,530.4 h-5.0 M826.0,514.4 h-10.0 M826.0,498.4 h-5.0 M826.0,482.5 h-5.0 M826.0,466.5 h-5.0 M826.0,450.5 h-5.0 M826.0,434.6 h-10.0 M826.0,418.6 h-5.0 M826.0,402.6 h-5.0 M826.0,386.6 h-5.0 M826.0,370.7 h-5.0 M826.0,354.7 h-10.0 M826.0,338.7 h-5.0 M826.0,322.8 h-5.0 M826.0,306.8 h-5.0 M826.0,290.8 h-5.0 M826.0,274.9 h-10.0 M826.0,258.9 h-5.0 M826.0,242.9 h-5.0 M826.0,226.9 h-5.0 M826.0,211.0 h-5.0 M826.0,195.0 h-10.0 M826.0,179.0 h-5.0 M826.0,163.1 h-5.0 M826.0,147.1 h-5.0 M826.0,131.1 h-5.0 M826.0,115.1 h-10.0 M826.0,99.2 h-5.0 M826.0,83.2 h-5.0 M826.0,67.2 h-5.0 " stroke="#000" stroke-width="1.6" fill="none"/>
<line x1="110.2" y1="51.8" x2="827.0" y2="51.8" stroke="#000" stroke-width="2.4"/>
<text transform="translate(100.2,118.8) scale(1,1.075)" font-size="34.6" text-anchor="end" fill="#858585">3.0</text>
<text transform="translate(100.2,213.1) scale(1,1.075)" font-size="34.6" text-anchor="end" fill="#858585">2.5</text>
<text transform="translate(100.2,307.4) scale(1,1.075)" font-size="34.6" text-anchor="end" fill="#858585">2.0</text>
<text transform="translate(100.2,401.7) scale(1,1.075)" font-size="34.6" text-anchor="end" fill="#858585">1.5</text>
<text transform="translate(100.2,496.0) scale(1,1.075)" font-size="34.6" text-anchor="end" fill="#858585">1.0</text>
<text transform="translate(100.2,590.3) scale(1,1.075)" font-size="34.6" text-anchor="end" fill="#858585">0.5</text>
<text transform="translate(100.2,684.6) scale(1,1.075)" font-size="34.6" text-anchor="end" fill="#858585">0.0</text>
<text transform="translate(100.2,537.1) scale(1,1.075)" font-size="34.6" text-anchor="end" fill="#858585">0.8</text>
<text transform="translate(836.4,127.0) scale(1,1.075)" font-size="34.6" text-anchor="start" fill="#000">35</text>
<text transform="translate(836.4,206.9) scale(1,1.075)" font-size="34.6" text-anchor="start" fill="#000">30</text>
<text transform="translate(836.4,286.8) scale(1,1.075)" font-size="34.6" text-anchor="start" fill="#000">25</text>
<text transform="translate(836.4,366.6) scale(1,1.075)" font-size="34.6" text-anchor="start" fill="#000">20</text>
<text transform="translate(836.4,526.3) scale(1,1.075)" font-size="34.6" text-anchor="start" fill="#000">10</text>
<text transform="translate(836.4,606.1) scale(1,1.075)" font-size="34.6" text-anchor="start" fill="#000">5</text>
<text transform="translate(836.4,686.0) scale(1,1.075)" font-size="34.6" text-anchor="start" fill="#000">0</text>
<text transform="translate(837.4,446.8) scale(1,1.105)" font-size="33.6" text-anchor="start" fill="#000">15</text>
<text transform="translate(836.4,419.8) scale(1,1.105)" font-size="33.6" text-anchor="start" fill="#8c8c8c">16</text>
<text transform="translate(44.3,387.0) rotate(-90) scale(1,1.040)" font-size="34.6" text-anchor="middle" fill="#858585">UCS, <tspan font-style="italic">q</tspan><tspan font-style="italic" font-size="22" dy="6">u</tspan><tspan dy="-6"> (MPa)</tspan></text>
<text transform="translate(909.5,415.0) rotate(-90) scale(1,1.050)" font-size="34.8" text-anchor="middle" fill="#000" xml:space="preserve">Cement content, <tspan font-style="italic">C</tspan><tspan font-style="italic" font-size="22" dy="6">c</tspan><tspan dy="-6">  (%)</tspan></text>
<path d="M111.2,673.7 V728.6 H826.0 V673.7" fill="#fff" stroke="#000" stroke-width="2.2" stroke-linejoin="round"/>
<line x1="110.2" y1="673.7" x2="827.0" y2="673.7" stroke="#000" stroke-width="2.2"/>
<path d="M349.8,673.7 V728.6 M588.3,673.7 V728.6" stroke="#000" stroke-width="2.2" fill="none"/>
<line x1="110.3" y1="673.5" x2="121.0" y2="673.5" stroke="#7a7a7a" stroke-width="1.8"/>
<text transform="translate(229.6,712.9) scale(1,1.075)" font-size="34.6" text-anchor="middle" fill="#000">G3</text>
<text transform="translate(468.2,712.9) scale(1,1.075)" font-size="34.6" text-anchor="middle" fill="#000">G4</text>
<text transform="translate(706.6,712.9) scale(1,1.075)" font-size="34.6" text-anchor="middle" fill="#000">G5</text>
</svg></body></html>
